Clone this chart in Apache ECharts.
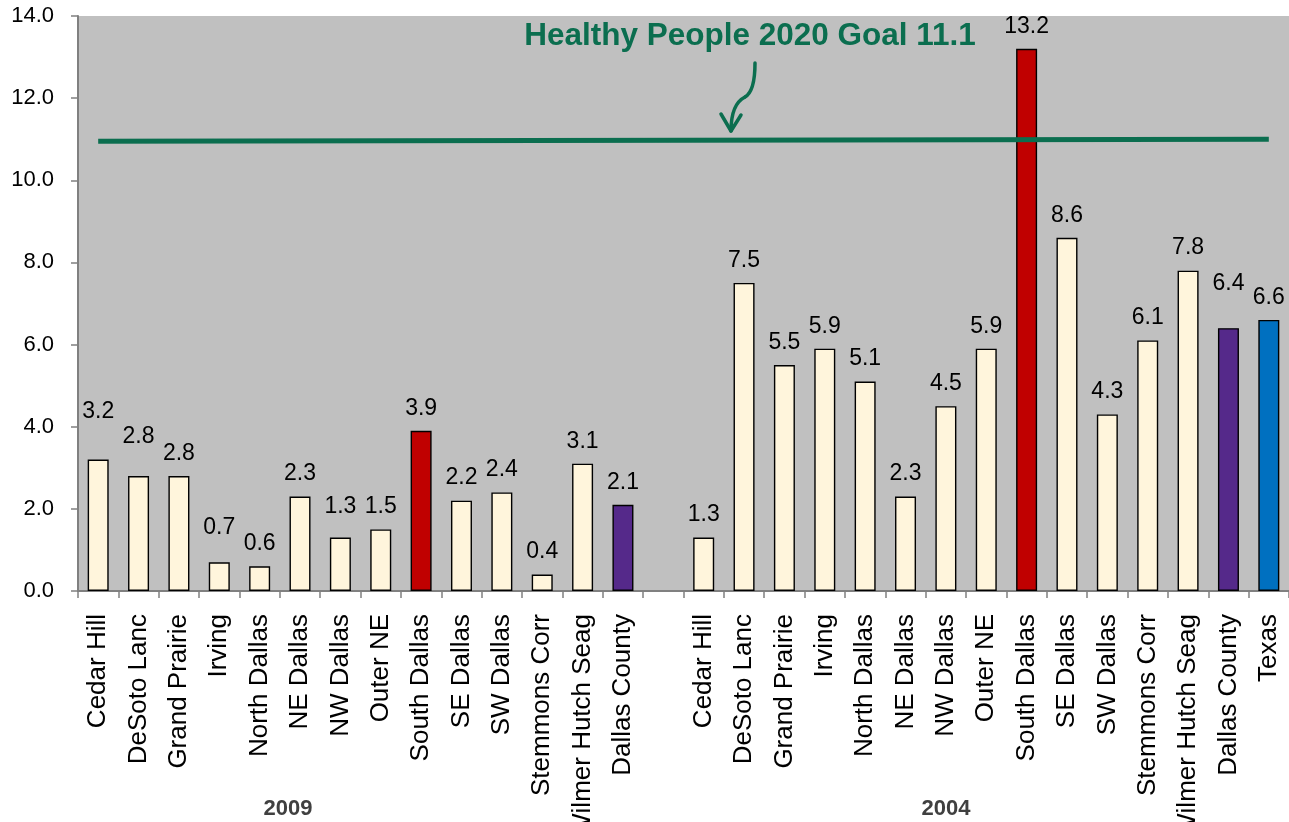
<!DOCTYPE html>
<html><head><meta charset="utf-8">
<script src="https://cdn.jsdelivr.net/npm/echarts@6/dist/echarts.min.js"></script>
<style>html,body{margin:0;padding:0;background:#fff}#c{width:1289px;height:822px}</style>
</head><body><div id="c"></div>
<script>
// ---- data ----
const areas2009 = ['Cedar Hill','DeSoto Lanc','Grand Prairie','Irving','North Dallas','NE Dallas','NW Dallas','Outer NE','South Dallas','SE Dallas','SW Dallas','Stemmons Corr','Wilmer Hutch Seag','Dallas County'];
const areas2004 = ['Cedar Hill','DeSoto Lanc','Grand Prairie','Irving','North Dallas','NE Dallas','NW Dallas','Outer NE','South Dallas','SE Dallas','SW Dallas','Stemmons Corr','Wilmer Hutch Seag','Dallas County','Texas'];
const values2009 = [3.2,2.8,2.8,0.7,0.6,2.3,1.3,1.5,3.9,2.2,2.4,0.4,3.1,2.1];
const values2004 = [1.3,7.5,5.5,5.9,5.1,2.3,4.5,5.9,13.2,8.6,4.3,6.1,7.8,6.4,6.6];
const yearLabels = ['2009','2004'];
const goalText = 'Healthy People 2020 Goal 11.1';
const goalLine = [10.95, 11.0];   // drawn line level, left end / right end
const yMin = 0, yMax = 14, yStep = 2;

// ---- styling / layout ----
const FONT = "'Liberation Sans', Arial, sans-serif";
const GREEN = '#0B6E4F';
const colorFor = name => name === 'South Dallas' ? '#C00000'
  : name === 'Dallas County' ? '#55298A'
  : name === 'Texas' ? '#0070C0' : '#FFF5DC';
// extra lift of a few hand-placed value labels
const labelLift = {'0': 25, '1': 17, '3': 12, '6': 8, '28': 22};

const categories = [...areas2009, '', ...areas2004];
const values = [...values2009, null, ...values2004];

const barData = values.map((v, i) => v == null ? '-' : {
  value: v,
  itemStyle: {color: colorFor(categories[i])},
  label: {distance: 11 + (labelLift[String(i)] || 0)}
});

const arrowStyle = {stroke: GREEN, lineWidth: 3.5, fill: null, lineCap: 'round', lineJoin: 'round'};

const chart = echarts.init(document.getElementById('c'), null, {renderer: 'canvas'});
chart.setOption({
  animation: false,
  backgroundColor: '#fff',
  grid: {left: 78, right: 0, top: 16, height: 575, containLabel: false, outerBoundsMode: 'none',
    show: true, backgroundColor: '#C0C0C0', borderWidth: 0},
  xAxis: {
    type: 'category', data: categories,
    axisLine: {lineStyle: {color: '#808080', width: 2}},
    axisTick: {show: true, length: 7, lineStyle: {color: '#808080', width: 1.5}},
    axisLabel: {interval: 0, rotate: 90, margin: 23, color: '#000', fontSize: 26, fontFamily: FONT}
  },
  yAxis: {
    type: 'value', min: yMin, max: yMax, interval: yStep,
    axisLine: {show: true, lineStyle: {color: '#808080', width: 2}},
    axisTick: {show: true, length: 7, lineStyle: {color: '#808080', width: 1.5}},
    splitLine: {show: false},
    axisLabel: {color: '#000', fontSize: 22, fontFamily: FONT, margin: 24, formatter: v => v.toFixed(1)}
  },
  series: [{
    type: 'bar', data: barData, barWidth: 21,
    itemStyle: {borderColor: '#000', borderWidth: 1.4},
    label: {show: true, position: 'top', color: '#000', fontSize: 23, fontFamily: FONT,
      formatter: p => Number(p.value).toFixed(1)},
    markLine: {
      silent: true, symbol: ['none', 'none'], label: {show: false},
      lineStyle: {color: GREEN, width: 5, type: 'solid'},
      data: [[{coord: [0, goalLine[0]]}, {coord: [categories.length - 1, goalLine[1]]}]]
    },
    z: 2
  }],
  graphic: [
    {type: 'text', x: 750, y: 36, z: 10, style: {text: goalText, fill: GREEN, font: "bold 31.5px 'Liberation Sans', Arial", textAlign: 'center', textVerticalAlign: 'middle'}},
    {type: 'bezierCurve', z: 10, shape: {x1: 755, y1: 63, cpx1: 755, cpy1: 82, cpx2: 752, cpy2: 93, x2: 745, y2: 97}, style: arrowStyle},
    {type: 'bezierCurve', z: 10, shape: {x1: 745, y1: 97, cpx1: 737, cpy1: 101, cpx2: 731, cpy2: 110, x2: 731, y2: 131}, style: arrowStyle},
    {type: 'polyline', z: 10, shape: {points: [[721, 114], [731, 131], [741, 115]]}, style: arrowStyle},
    {type: 'text', x: 288, y: 809, style: {text: yearLabels[0], fill: '#404040', font: "bold 22px 'Liberation Sans', Arial", textAlign: 'center', textVerticalAlign: 'middle'}},
    {type: 'text', x: 946, y: 809, style: {text: yearLabels[1], fill: '#404040', font: "bold 22px 'Liberation Sans', Arial", textAlign: 'center', textVerticalAlign: 'middle'}}
  ]
});
</script></body></html>
